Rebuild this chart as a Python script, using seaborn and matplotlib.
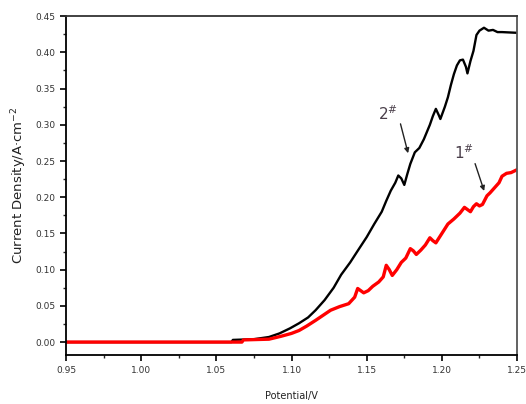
import matplotlib
matplotlib.use("Agg")
import matplotlib.pyplot as plt
import seaborn as sns
import pandas as pd
from matplotlib.ticker import MultipleLocator

# Sample 2# (black)
x2 = [0.95, 1.060, 1.061, 1.075, 1.085, 1.092, 1.099, 1.105, 1.111, 1.116, 1.122, 1.128,
      1.133, 1.139, 1.144, 1.150, 1.155, 1.160, 1.163, 1.166, 1.169, 1.171, 1.173, 1.175,
      1.177, 1.179, 1.182, 1.185, 1.188, 1.192, 1.194, 1.196, 1.198, 1.199, 1.202, 1.204,
      1.206, 1.208, 1.210, 1.212, 1.214, 1.216, 1.217, 1.219, 1.221, 1.223, 1.225, 1.228,
      1.231, 1.234, 1.237, 1.240, 1.250]
y2 = [0.0, 0.0, 0.003, 0.004, 0.007, 0.012, 0.019, 0.026, 0.034, 0.044, 0.058, 0.075,
      0.093, 0.110, 0.126, 0.145, 0.163, 0.180, 0.195, 0.209, 0.220, 0.230, 0.226, 0.217,
      0.232, 0.246, 0.262, 0.268, 0.280, 0.300, 0.312, 0.322, 0.313, 0.308, 0.325, 0.338,
      0.355, 0.370, 0.382, 0.389, 0.390, 0.380, 0.371, 0.388, 0.402, 0.424, 0.430, 0.434,
      0.430, 0.431, 0.428, 0.428, 0.427]

# Sample 1# (red)
x1 = [0.95, 1.067, 1.068, 1.085, 1.093, 1.100, 1.105, 1.110, 1.116, 1.121, 1.126, 1.132,
      1.138, 1.142, 1.144, 1.146, 1.148, 1.151, 1.154, 1.158, 1.161, 1.163, 1.165, 1.167,
      1.170, 1.173, 1.176, 1.179, 1.181, 1.183, 1.186, 1.189, 1.192, 1.194, 1.196, 1.200,
      1.204, 1.208, 1.212, 1.215, 1.217, 1.219, 1.221, 1.223, 1.225, 1.227, 1.230, 1.232,
      1.235, 1.238, 1.240, 1.243, 1.246, 1.250]
y1 = [0.0, 0.0, 0.003, 0.004, 0.008, 0.012, 0.016, 0.022, 0.030, 0.037, 0.044, 0.049,
      0.053, 0.062, 0.074, 0.071, 0.068, 0.071, 0.077, 0.083, 0.090, 0.106, 0.100, 0.092,
      0.100, 0.110, 0.116, 0.129, 0.126, 0.121, 0.127, 0.134, 0.144, 0.140, 0.137, 0.150,
      0.163, 0.170, 0.178, 0.186, 0.183, 0.180, 0.187, 0.191, 0.188, 0.190, 0.202, 0.206,
      0.213, 0.220, 0.229, 0.233, 0.234, 0.238]

x_ticks = [0.95, 1.00, 1.05, 1.10, 1.15, 1.20, 1.25]
y_ticks = [0.00, 0.05, 0.10, 0.15, 0.20, 0.25, 0.30, 0.35, 0.40, 0.45]

sns.set_style("ticks")
plt.rcParams['font.family'] = ['DejaVu Sans']

fig = plt.figure(figsize=(5.26, 4.04), dpi=100)
ax = fig.add_axes([0.1255, 0.121, 0.8575, 0.839])

df2 = pd.DataFrame({"x": x2, "y": y2})
df1 = pd.DataFrame({"x": x1, "y": y1})
sns.lineplot(data=df2, x="x", y="y", ax=ax, color="black", lw=1.7, sort=False, estimator=None)
sns.lineplot(data=df1, x="x", y="y", ax=ax, color="#ff0000", lw=2.4, sort=False, estimator=None)

ax.set_xlim(0.95, 1.25)
ax.set_ylim(-0.018, 0.45)
ax.set_xticks(x_ticks)
ax.set_xticklabels([f"{v:.2f}" for v in x_ticks])
ax.set_yticks(y_ticks)
ax.set_yticklabels([f"{v:.2f}" for v in y_ticks])
ax.xaxis.set_minor_locator(MultipleLocator(0.025))
ax.yaxis.set_minor_locator(MultipleLocator(0.025))
ax.tick_params(axis="both", which="major", direction="out", length=4, width=1.2,
               labelsize=6.5, colors="black", labelcolor="#333333")
ax.tick_params(axis="both", which="minor", direction="out", length=2.5, width=1.0)
ax.tick_params(top=False, right=False, which="both")
for s in ax.spines.values():
    s.set_linewidth(1.3)
    s.set_color("black")
ax.spines["right"].set_color("#555555")
ax.spines["top"].set_color("#333333")

ax.set_xlabel("Potential/V", fontsize=7, color="#222222", labelpad=12)
ax.set_ylabel("Current Density/A·cm$^{-2}$", fontsize=9.5, color="#222222", labelpad=5)

ax.annotate("", xy=(1.178, 0.257), xytext=(1.172, 0.305),
            arrowprops=dict(arrowstyle="-|>", color="#222222", lw=1.0, mutation_scale=7))
ax.text(1.164, 0.315, "2$^{\\#}$", fontsize=11, color="#4a3f4a", ha="center", va="center")
ax.annotate("", xy=(1.2287, 0.205), xytext=(1.2215, 0.250),
            arrowprops=dict(arrowstyle="-|>", color="#222222", lw=1.0, mutation_scale=7))
ax.text(1.215, 0.261, "1$^{\\#}$", fontsize=11, color="#4a3f4a", ha="center", va="center")

fig.savefig("out.png", dpi=100)
